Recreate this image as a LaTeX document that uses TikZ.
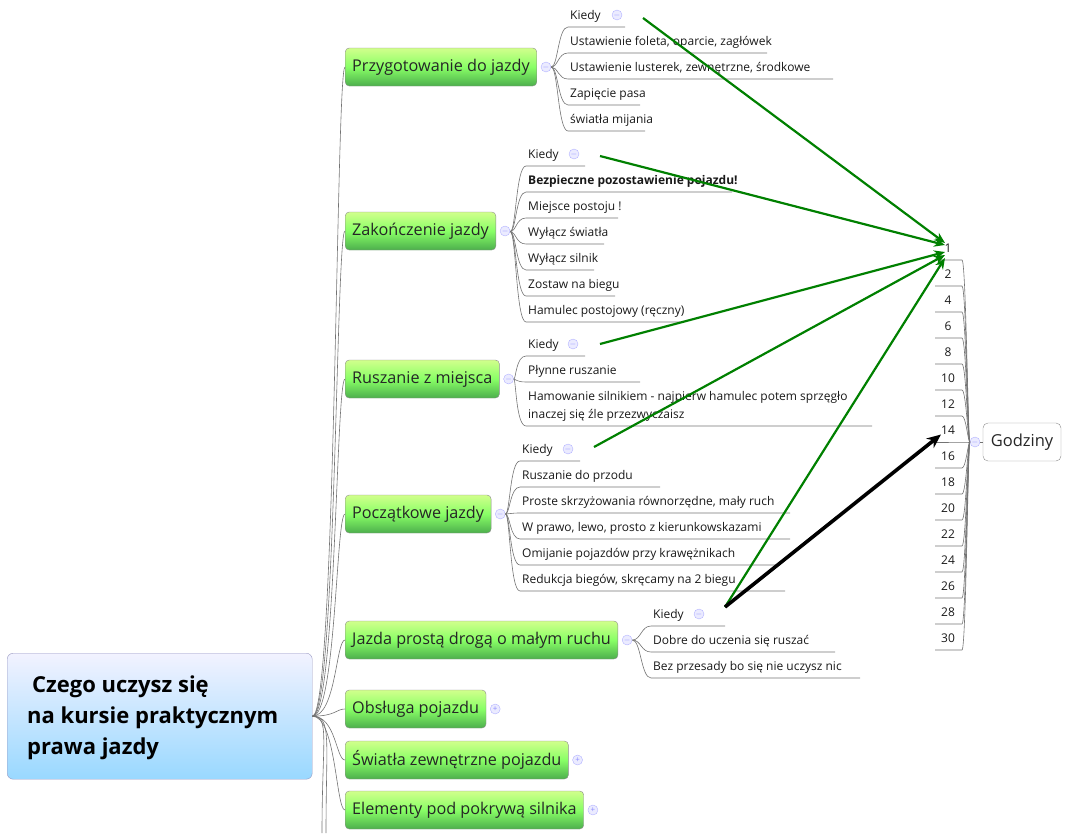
\documentclass[tikz,border=0pt]{standalone}
\usepackage{fontspec}
\setmainfont{Open Sans}
\usetikzlibrary{arrows.meta}
\tikzset{
 topic/.style={draw=black!45,rounded corners=4pt,top color=green!20!lime!45,bottom color=green!55!black!70,
   middle color=green!70!lime!60,minimum height=38pt,inner xsep=7pt,anchor=west,font=\fontsize{16.2}{18}\selectfont,text=black!85},
 sub/.style={font=\fontsize{12}{14}\selectfont,inner sep=0pt,text=black!90},
 conn/.style={draw=black!55,line width=0.6pt},
 knob/.style={circle,draw=blue!30,fill=blue!8,minimum size=10pt,inner sep=0pt,font=\fontsize{8}{8}\selectfont,text=blue!45},
 garr/.style={draw=green!50!black,line width=2.2pt,-{Stealth[length=11pt,width=9pt]}},
 barr/.style={draw=black,line width=3.6pt,-{Stealth[length=14pt,width=12pt]}},
}
\newcommand\mmsub[7]{%
 \node[sub,anchor=base west] (#1) at (#4,#5+4) {#7};
 \draw[conn] (#2) .. controls (#4-12,#3) and (#4-12,#5+12) .. (#4-2,#5+12) -- (#6,#5+12);}
\begin{document}
\begin{tikzpicture}[x=1pt,y=-1pt]
\useasboundingbox (0,0) rectangle (1067,833);
% root
\node[draw=blue!40!black!40,rounded corners=6pt,top color=blue!5,bottom color=blue!38!cyan!40,minimum width=305pt,minimum height=126pt,anchor=north west,inner sep=0pt] (root) at (7,653) {};
\node[anchor=base west,font=\bfseries\fontsize{22}{24}\selectfont,inner sep=0pt] (r1) at (32,692) {Czego uczysz się};
\node[anchor=base west,font=\bfseries\fontsize{22}{24}\selectfont,inner sep=0pt] (r2) at (27,723) {na kursie praktycznym};
\node[anchor=base west,font=\bfseries\fontsize{22}{24}\selectfont,inner sep=0pt] (r3) at (27,754) {prawa jazdy};
% topics
\node[topic] (t1) at (345,67) {Przygotowanie do jazdy};
\node[topic] (t2) at (345,231) {Zakończenie jazdy};
\node[topic] (t3) at (345,379) {Ruszanie z miejsca};
\node[topic] (t4) at (345,514) {Początkowe jazdy};
\node[topic] (t5) at (345,640) {Jazda prostą drogą o małym ruchu};
\node[topic] (t6) at (345,709) {Obsługa pojazdu};
\node[topic] (t7) at (345,760) {Światła zewnętrzne pojazdu};
\node[topic] (t8) at (345,810) {Elementy pod pokrywą silnika};
\coordinate (cx) at (336,0);
\foreach \t in {t1,t2,t3,t4,t5,t6,t7,t8}{
 \draw[conn] (root.east) .. controls (336,716) and (cx |- \t.west) .. (\t.west);}
\coordinate (o1) at (322,833); \coordinate (o2) at (326,833);
\draw[conn] (root.east) .. controls (330,716) and (322,740) .. (o1);
\draw[conn] (root.east) .. controls (332,716) and (326,740) .. (o2);
% knobs
\node[knob] (k1) at ([xshift=9pt]t1.east) {$-$};
\node[knob] (k2) at ([xshift=9pt]t2.east) {$-$};
\node[knob] (k3) at ([xshift=9pt]t3.east) {$-$};
\node[knob] (k4) at ([xshift=9pt]t4.east) {$-$};
\node[knob] (k5) at ([xshift=9pt]t5.east) {$-$};
\node[knob] (k6) at ([xshift=9pt]t6.east) {+};
\node[knob] (k7) at ([xshift=9pt]t7.east) {+};
\node[knob] (k8) at ([xshift=9pt]t8.east) {+};
% group 1
\mmsub{a1}{k1}{67}{570}{15}{625}{Kiedy}
\mmsub{a2}{k1}{67}{570}{41}{767}{Ustawienie foleta, oparcie, zagłówek}
\mmsub{a3}{k1}{67}{570}{67}{833}{Ustawienie lusterek, zewnętrzne, środkowe}
\mmsub{a4}{k1}{67}{570}{93}{640}{Zapięcie pasa}
\mmsub{a5}{k1}{67}{570}{119}{645}{światła mijania}
% group 2
\mmsub{b1}{k2}{232}{528}{154}{585}{Kiedy}
\mmsub{b2}{k2}{232}{528}{180}{732}{\bfseries Bezpieczne pozostawienie pojazdu!}
\mmsub{b3}{k2}{232}{528}{206}{618}{Miejsce postoju !}
\mmsub{b4}{k2}{232}{528}{232}{604}{Wyłącz światła}
\mmsub{b5}{k2}{232}{528}{258}{594}{Wyłącz silnik}
\mmsub{b6}{k2}{232}{528}{284}{615}{Zostaw na biegu}
\mmsub{b7}{k2}{232}{528}{310}{680}{Hamulec postojowy (ręczny)}
% group 3
\mmsub{c1}{k3}{379}{528}{344}{585}{Kiedy}
\mmsub{c2}{k3}{379}{528}{370}{640}{Płynne ruszanie}
\node[sub,anchor=base west] (c3) at (528,400) {Hamowanie silnikiem - najpierw hamulec potem sprzęgło};
\mmsub{c4}{k3}{379}{528}{414}{872}{inaczej się źle przezwyczaisz}
% group 4
\mmsub{d1}{k4}{514}{522}{449}{580}{Kiedy}
\mmsub{d2}{k4}{514}{522}{475}{660}{Ruszanie do przodu}
\mmsub{d3}{k4}{514}{522}{501}{790}{Proste skrzyżowania równorzędne, mały ruch}
\mmsub{d4}{k4}{514}{522}{527}{790}{W prawo, lewo, prosto z kierunkowskazami}
\mmsub{d5}{k4}{514}{522}{553}{780}{Omijanie pojazdów przy krawężnikach}
\mmsub{d6}{k4}{514}{522}{579}{785}{Redukcja biegów, skręcamy na 2 biegu}
% group 5
\mmsub{e1}{k5}{640}{653}{614}{725}{Kiedy}
\mmsub{e2}{k5}{640}{653}{640}{835}{Dobre do uczenia się ruszać}
\mmsub{e3}{k5}{640}{653}{666}{860}{Bez przesady bo się nie uczysz nic}
% Kiedy knobs
\node[knob] (q1) at (617,15) {$-$};
\node[knob] (q2) at (574,154) {$-$};
\node[knob] (q3) at (573,344) {$-$};
\node[knob] (q4) at (568,449) {$-$};
\node[knob] (q5) at (699,614) {$-$};
% Godziny
\node[draw=black!45,rounded corners=5pt,minimum width=78pt,minimum height=38pt,font=\fontsize{16.5}{18}\selectfont,text=black!85] (god) at (1022,442) {Godziny};
\node[knob] (kg) at (975,442) {$-$};
\draw[conn] (kg) -- (god.west);
\foreach \n [count=\i from 0] in {1,2,4,6,8,10,12,14,16,18,20,22,24,26,28,30}{
 \node[sub] (h\n) at (948,248+26*\i) {\n};
 \draw[conn] (kg) .. controls (968,442) and (966,260+26*\i) .. (962,260+26*\i) -- (935,260+26*\i);}
% arrows
\coordinate (s5) at (725,607);
\draw[garr] (643,18) -- (945,243);
\draw[garr] (600,156) -- (945,245);
\draw[garr] (600,344) -- (945,252);
\draw[garr] (594,447) -- (945,255);
\draw[garr] (s5) -- (945,258);
\draw[barr] (s5) -- (h14.south west);
\end{tikzpicture}
\end{document}
